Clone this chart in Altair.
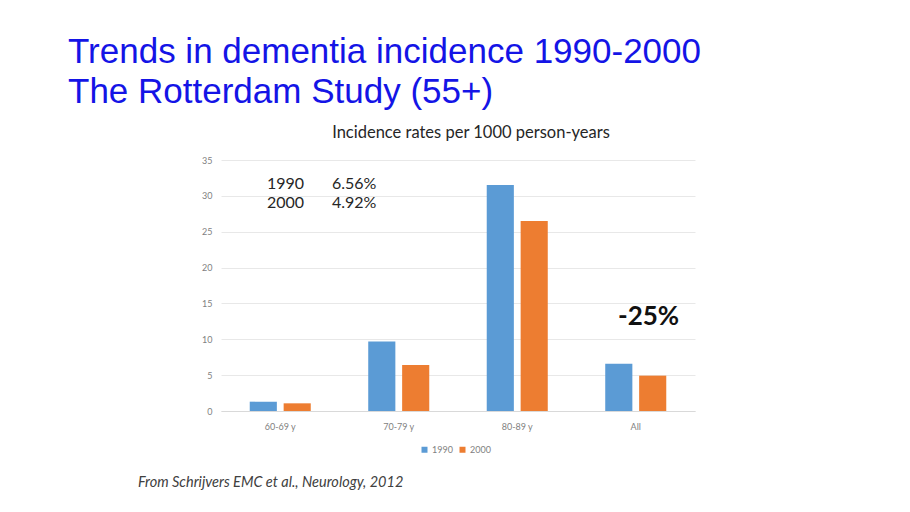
import altair as alt
import pandas as pd

categories = ["60-69 y", "70-79 y", "80-89 y", "All"]
years = ["1990", "2000"]
rates_1990 = [1.3, 9.7, 31.5, 6.6]
rates_2000 = [1.07, 6.4, 26.5, 4.93]

title_lines = ["Trends in dementia incidence 1990-2000", "The Rotterdam Study (55+)"]
subtitle = "Incidence rates per 1000 person-years"
note_years = ["1990", "2000"]
note_pcts = ["6.56%", "4.92%"]
change_label = "-25%"
source = "From Schrijvers EMC et al., Neurology, 2012"

rows = []
for c, a, b in zip(categories, rates_1990, rates_2000):
    rows.append({"cat": c, "year": years[0], "rate": a})
    rows.append({"cat": c, "year": years[1], "rate": b})
df = pd.DataFrame(rows)

FONT = "Lato"
W, H = 474, 251

bars = alt.Chart(df).mark_bar().encode(
    x=alt.X("cat:N", sort=categories, title=None,
            scale=alt.Scale(paddingInner=0.485, paddingOuter=0.2425),
            axis=alt.Axis(labelAngle=0, ticks=False, labelFontSize=9, labelColor="#7f7f7f",
                          labelFont=FONT, domainColor="#d9d9d9", labelPadding=11)),
    xOffset=alt.XOffset("year:N", scale=alt.Scale(paddingInner=0.2, paddingOuter=0)),
    y=alt.Y("rate:Q", title=None, scale=alt.Scale(domain=[0, 35], nice=False),
            axis=alt.Axis(values=list(range(0, 36, 5)), ticks=False, domain=False,
                          labelFontSize=9, labelColor="#7f7f7f", labelFont=FONT,
                          gridColor="#e8e8e8", labelPadding=9)),
    color=alt.Color("year:N", scale=alt.Scale(domain=years, range=["#5B9BD5", "#ED7D31"]),
                    legend=alt.Legend(title=None, orient="none", direction="horizontal",
                                      legendX=199, legendY=285, symbolType="square",
                                      symbolSize=36, symbolStrokeWidth=0, labelFontSize=9,
                                      labelColor="#7f7f7f", labelFont=FONT, labelOffset=3,
                                      columnPadding=5)),
)

def text_layer(txt, x, y, size, color="#262626", weight="normal", style="normal",
               align="left", font=FONT):
    return alt.Chart(pd.DataFrame({"t": [txt]})).mark_text(
        align=align, baseline="alphabetic", fontSize=size, font=font, color=color,
        fontWeight=weight, fontStyle=style,
    ).encode(x=alt.value(x), y=alt.value(y), text="t:N")

OX, OY = 221, 160
TITLE_FONT = "Liberation Sans"
layers = [bars]
layers.append(text_layer(title_lines[0], 68 - OX, 63 - OY, 35, color="#1414E6", font=TITLE_FONT))
layers.append(text_layer(title_lines[1], 68 - OX, 103 - OY, 35, color="#1414E6", font=TITLE_FONT))
layers.append(text_layer(subtitle, 471 - OX, 138 - OY, 16.5, align="center"))
layers.append(text_layer(note_years[0], 267 - OX, 189 - OY, 16))
layers.append(text_layer(note_years[1], 267 - OX, 208 - OY, 16))
layers.append(text_layer(note_pcts[0], 332 - OX, 189 - OY, 16))
layers.append(text_layer(note_pcts[1], 332 - OX, 208 - OY, 16))
layers.append(text_layer(change_label, 618 - OX, 325 - OY, 26, color="#111111", weight="bold"))
layers.append(text_layer(source, 138 - OX, 487 - OY, 14.5, color="#404040", style="italic"))

chart = alt.layer(*layers).properties(
    width=W, height=H,
    autosize=alt.AutoSizeParams(type="none"),
    padding={"left": OX - 8, "top": OY - 8, "right": 894 - OX - W, "bottom": 496 - OY - H},
).configure(background="white").configure_view(stroke="transparent", strokeWidth=0)

chart.save("out.html", embed_options={"renderer": "svg", "actions": False})
